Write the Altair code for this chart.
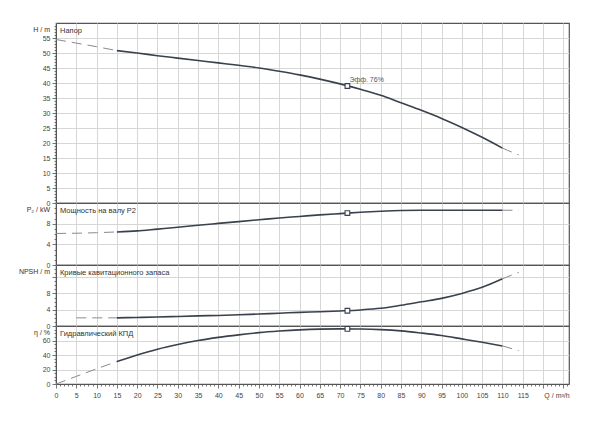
import altair as alt
import pandas as pd

# ---------------- data ----------------
Q_SOLID = [15, 20, 25, 30, 35, 40, 45, 50, 55, 60, 65, 70, 75, 80, 85, 90, 95, 100, 105, 110]
H_SOLID = [50.8, 50.0, 49.1, 48.3, 47.5, 46.7, 45.9, 45.0, 43.9, 42.7, 41.3, 39.7, 37.9, 35.9, 33.4, 30.9, 28.2, 25.2, 21.9, 18.3]
P_SOLID = [6.4, 6.6, 6.95, 7.3, 7.7, 8.05, 8.4, 8.75, 9.1, 9.4, 9.7, 9.95, 10.2, 10.4, 10.55, 10.6, 10.6, 10.6, 10.6, 10.6]
NPSH_SOLID = [2.0, 2.1, 2.2, 2.35, 2.5, 2.6, 2.75, 2.95, 3.15, 3.35, 3.5, 3.7, 3.95, 4.35, 5.1, 5.95, 6.8, 8.0, 9.5, 11.6]
ETA_SOLID = [31, 40, 48, 54.5, 60, 64.3, 67.8, 70.8, 73, 74.7, 75.7, 76, 75.8, 75, 73.3, 70.3, 66.8, 62.2, 57.5, 52.5]

Q_LEFT = [0, 5, 10, 15]
H_LEFT = [54.5, 53.3, 52.1, 50.8]
P_LEFT = [6.1, 6.15, 6.25, 6.4]
Q_LEFT_NPSH = [5, 10, 15]
NPSH_LEFT = [2.0, 2.0, 2.0]
ETA_LEFT = [0, 10.5, 21, 31]

Q_RIGHT = [110, 114]
H_RIGHT = [18.3, 16.0]
P_RIGHT = [10.6, 10.6]
NPSH_RIGHT = [11.6, 13.2]
ETA_RIGHT = [52.5, 46.0]

Q_OPT = 71.8
H_OPT = 39.0
P_OPT = 10.05
NPSH_OPT = 3.75
ETA_OPT = 76.0
EFF_LABEL = "Эфф.  76%"

PANEL_TITLES = ["Напор", "Мощность на валу P2", "Кривые кавитационного запаса", "Гидравлический КПД"]
AXIS_NAMES = ["H / m", "P\u2082 / kW", "NPSH / m", "\u03b7 / %"]
X_TITLE = "Q / m\u00b3/h"

# ---------------- styling ----------------
FONT = "Liberation Sans"
LINE_COLOR = "#38414d"
DASH_COLOR = "#8a8a8a"
GRID_COLOR = "#d6d6d6"
W = 513
X_MAX = 126.4


def x_encoding(bottom):
    if bottom:
        axis = alt.Axis(
            values=list(range(0, 127)),
            labelExpr="(datum.value % 5 === 0 && datum.value < 120) ? datum.label : ''",
            labelOverlap=False,
            labelFlush=False,
            tickSize={"condition": {"test": "datum.value % 5 === 0", "value": 4}, "value": 2},
            gridOpacity={"condition": {"test": "datum.value % 5 === 0", "value": 1}, "value": 0},
            grid=True,
            gridColor=GRID_COLOR,
            labelPadding=3,
            title=None,
        )
    else:
        axis = alt.Axis(values=list(range(0, 127, 5)), labels=False, ticks=False,
                        domain=False, grid=True, gridColor=GRID_COLOR, title=None)
    return alt.X("Q:Q", scale=alt.Scale(domain=[0, X_MAX], nice=False, zero=False), axis=axis)


def y_encoding(ymax, tick_values, label_step, label_max, grid_step):
    axis = alt.Axis(
        values=tick_values,
        labelExpr=f"(datum.value % {label_step} === 0 && datum.value <= {label_max}) ? datum.label : ''",
        labelOverlap=False,
        labelFlush=False,
        tickSize={"condition": {"test": f"datum.value % {label_step} === 0", "value": 4}, "value": 2},
        gridOpacity={"condition": {"test": f"datum.value % {grid_step} === 0", "value": 1}, "value": 0},
        grid=True,
        gridColor=GRID_COLOR,
        labelPadding=2,
        title=None,
    )
    return alt.Y("v:Q", scale=alt.Scale(domain=[0, ymax], nice=False), axis=axis)


def panel(solid, lq, lv, rq, rv, opt_v, ymax, height, tick_values, label_step, label_max, grid_step,
          title, axis_name, bottom=False, eff=None):
    solid_df = pd.DataFrame({"Q": Q_SOLID, "v": solid})
    dash_df = pd.concat([
        pd.DataFrame({"Q": lq, "v": lv, "seg": "L"}),
        pd.DataFrame({"Q": rq, "v": rv, "seg": "R"}),
    ])
    opt_df = pd.DataFrame({"Q": [Q_OPT], "v": [opt_v], "lab": [eff if eff else ""]})
    xe = x_encoding(bottom)
    ye = y_encoding(ymax, tick_values, label_step, label_max, grid_step)

    solid_line = alt.Chart(solid_df).mark_line(color=LINE_COLOR, strokeWidth=1.6, interpolate="monotone").encode(x=xe, y=ye)
    dash_line = alt.Chart(dash_df).mark_line(color=DASH_COLOR, strokeWidth=1, strokeDash=[10, 6]).encode(
        x=xe, y=ye, detail="seg:N")
    marker = alt.Chart(opt_df).mark_point(shape="square", size=22, filled=True, fill="white",
                                          stroke=LINE_COLOR, strokeWidth=1.1, opacity=1).encode(x=xe, y=ye)
    layers = [solid_line, dash_line, marker]
    if eff:
        layers.append(alt.Chart(opt_df).mark_text(align="left", baseline="middle", dx=2, dy=-6,
                                                   fontSize=7, font=FONT, color="#555").encode(
            x=xe, y=ye, text="lab:N"))
    t_df = pd.DataFrame({"t": [title]})
    layers.append(alt.Chart(t_df).mark_text(align="left", baseline="middle", fontSize=7.5, font=FONT,
                                            color="#333").encode(x=alt.value(4), y=alt.value(8), text="t:N"))
    a_df = pd.DataFrame({"t": [axis_name]})
    layers.append(alt.Chart(a_df).mark_text(align="right", baseline="middle", fontSize=7, font=FONT,
                                            color="#333").encode(x=alt.value(-6), y=alt.value(7), text="t:N"))
    if bottom:
        q_df = pd.DataFrame({"t": [X_TITLE]})
        layers.append(alt.Chart(q_df).mark_text(align="center", baseline="middle", fontSize=7, font=FONT,
                                                color="#444").encode(x=alt.value(501), y=alt.value(height + 12),
                                                                     text="t:N"))
    return alt.layer(*layers).properties(width=W, height=height)


p_h = panel(H_SOLID, Q_LEFT, H_LEFT, Q_RIGHT, H_RIGHT, H_OPT, 60, 180, list(range(0, 60)), 5, 55, 5,
            PANEL_TITLES[0], AXIS_NAMES[0], eff=EFF_LABEL)
p_p = panel(P_SOLID, Q_LEFT, P_LEFT, Q_RIGHT, P_RIGHT, P_OPT, 12, 62, list(range(0, 12)), 4, 8, 4,
            PANEL_TITLES[1], AXIS_NAMES[1])
p_n = panel(NPSH_SOLID, Q_LEFT_NPSH, NPSH_LEFT, Q_RIGHT, NPSH_RIGHT, NPSH_OPT, 15, 61, list(range(0, 15)), 4, 8, 4,
            PANEL_TITLES[2], AXIS_NAMES[2])
p_e = panel(ETA_SOLID, Q_LEFT, ETA_LEFT, Q_RIGHT, ETA_RIGHT, ETA_OPT, 80, 58, list(range(0, 80, 5)), 20, 60, 20,
            PANEL_TITLES[3], AXIS_NAMES[3], bottom=True)

chart = alt.vconcat(p_h, p_p, p_n, p_e, spacing=0, bounds="flush").properties(
    padding={"left": 10, "top": 13, "right": 5, "bottom": 5},
    background="white",
).configure_view(
    stroke="#555", strokeWidth=1.2
).configure_axis(
    labelFont=FONT, labelFontSize=7, labelColor="#444", tickColor="#555", domainColor="#555",
    domainWidth=1, tickWidth=0.8
)

chart.save("out.html", embed_options={"renderer": "svg", "actions": False})
